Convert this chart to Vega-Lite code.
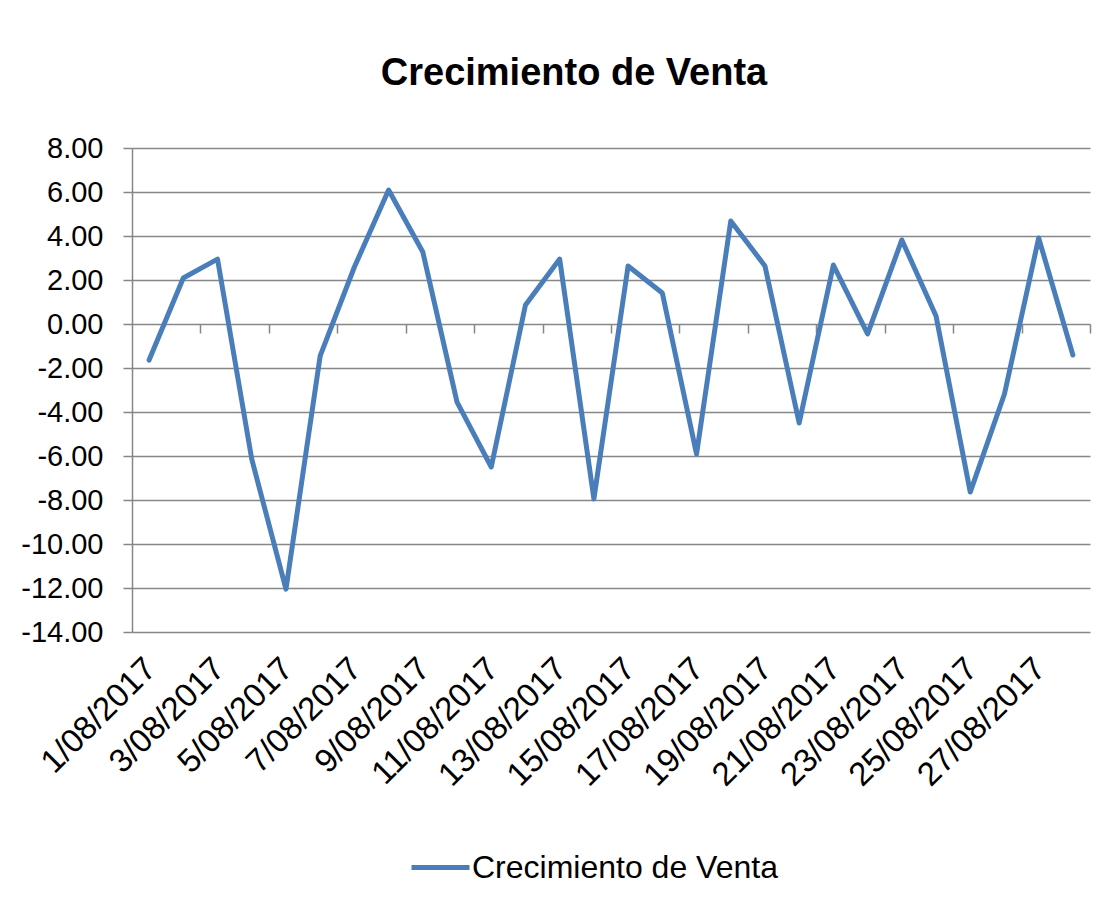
{
  "$schema": "https://vega.github.io/schema/vega-lite/v6.json",
  "width": 958,
  "height": 484,
  "autosize": {"type": "none"},
  "padding": {"left": 132, "top": 148, "right": 10, "bottom": 277},
  "background": "white",
  "title": {
    "text": "Crecimiento de Venta",
    "font": "Liberation Sans",
    "fontSize": 38,
    "fontWeight": "bold",
    "color": "black",
    "anchor": "middle",
    "frame": "group",
    "dx": -37,
    "baseline": "alphabetic",
    "offset": 11
  },
  "data": {
    "values": [
      {"fecha": "1/08/2017", "valor": -1.64, "serie": "Crecimiento de Venta"},
      {"fecha": "2/08/2017", "valor": 2.09, "serie": "Crecimiento de Venta"},
      {"fecha": "3/08/2017", "valor": 2.95, "serie": "Crecimiento de Venta"},
      {"fecha": "4/08/2017", "valor": -6.14, "serie": "Crecimiento de Venta"},
      {"fecha": "5/08/2017", "valor": -12.05, "serie": "Crecimiento de Venta"},
      {"fecha": "6/08/2017", "valor": -1.45, "serie": "Crecimiento de Venta"},
      {"fecha": "7/08/2017", "valor": 2.59, "serie": "Crecimiento de Venta"},
      {"fecha": "8/08/2017", "valor": 6.09, "serie": "Crecimiento de Venta"},
      {"fecha": "9/08/2017", "valor": 3.27, "serie": "Crecimiento de Venta"},
      {"fecha": "10/08/2017", "valor": -3.55, "serie": "Crecimiento de Venta"},
      {"fecha": "11/08/2017", "valor": -6.5, "serie": "Crecimiento de Venta"},
      {"fecha": "12/08/2017", "valor": 0.86, "serie": "Crecimiento de Venta"},
      {"fecha": "13/08/2017", "valor": 2.95, "serie": "Crecimiento de Venta"},
      {"fecha": "14/08/2017", "valor": -7.95, "serie": "Crecimiento de Venta"},
      {"fecha": "15/08/2017", "valor": 2.64, "serie": "Crecimiento de Venta"},
      {"fecha": "16/08/2017", "valor": 1.41, "serie": "Crecimiento de Venta"},
      {"fecha": "17/08/2017", "valor": -5.91, "serie": "Crecimiento de Venta"},
      {"fecha": "18/08/2017", "valor": 4.68, "serie": "Crecimiento de Venta"},
      {"fecha": "19/08/2017", "valor": 2.64, "serie": "Crecimiento de Venta"},
      {"fecha": "20/08/2017", "valor": -4.5, "serie": "Crecimiento de Venta"},
      {"fecha": "21/08/2017", "valor": 2.68, "serie": "Crecimiento de Venta"},
      {"fecha": "22/08/2017", "valor": -0.45, "serie": "Crecimiento de Venta"},
      {"fecha": "23/08/2017", "valor": 3.82, "serie": "Crecimiento de Venta"},
      {"fecha": "24/08/2017", "valor": 0.36, "serie": "Crecimiento de Venta"},
      {"fecha": "25/08/2017", "valor": -7.64, "serie": "Crecimiento de Venta"},
      {"fecha": "26/08/2017", "valor": -3.18, "serie": "Crecimiento de Venta"},
      {"fecha": "27/08/2017", "valor": 3.91, "serie": "Crecimiento de Venta"},
      {"fecha": "28/08/2017", "valor": -1.41, "serie": "Crecimiento de Venta"}
    ]
  },
  "layer": [
    {
      "mark": {"type": "line", "opacity": 0},
      "encoding": {
        "x": {
          "field": "fecha",
          "type": "nominal",
          "sort": null,
          "axis": {
            "orient": "bottom",
            "offset": -308,
            "title": null,
            "labels": false,
            "domain": false,
            "grid": false,
            "ticks": true,
            "tickOffset": 17.1,
            "tickSize": 9,
            "tickColor": "#878787",
            "tickWidth": 1.5,
            "values": ["2/08/2017", "4/08/2017", "6/08/2017", "8/08/2017", "10/08/2017", "12/08/2017", "14/08/2017", "16/08/2017", "18/08/2017", "20/08/2017", "22/08/2017", "24/08/2017", "26/08/2017", "28/08/2017"]
          }
        },
        "y": {"field": "valor", "type": "quantitative"}
      }
    },
    {
      "mark": {"type": "line", "strokeWidth": 5, "strokeCap": "round", "strokeJoin": "round"},
      "encoding": {
        "x": {
          "field": "fecha",
          "type": "nominal",
          "sort": null,
          "scale": {"paddingInner": 0, "paddingOuter": 0},
          "axis": {
            "orient": "bottom",
            "title": null,
            "domain": false,
            "ticks": false,
            "grid": false,
            "labelAngle": -45,
            "labelAlign": "right",
            "labelBaseline": "top",
            "labelPadding": 20,
            "labelOffset": -10,
            "labelFont": "Liberation Sans",
            "labelFontSize": 33,
            "labelColor": "black",
            "labelOverlap": false,
            "values": ["1/08/2017", "3/08/2017", "5/08/2017", "7/08/2017", "9/08/2017", "11/08/2017", "13/08/2017", "15/08/2017", "17/08/2017", "19/08/2017", "21/08/2017", "23/08/2017", "25/08/2017", "27/08/2017"]
          }
        },
        "y": {
          "field": "valor",
          "type": "quantitative",
          "scale": {"domain": [-14, 8], "nice": false, "zero": false},
          "axis": {
            "title": null,
            "values": [-14, -12, -10, -8, -6, -4, -2, 0, 2, 4, 6, 8],
            "labelExpr": "replace(format(datum.value, '.2f'), '\u2212', '-')",
            "labelFont": "Liberation Sans",
            "labelFontSize": 29,
            "labelColor": "black",
            "labelPadding": 20,
            "tickSize": 9,
            "tickColor": "#878787",
            "tickWidth": 1.5,
            "domainColor": "#878787",
            "domainWidth": 1.5,
            "grid": true,
            "gridColor": "#878787",
            "gridWidth": 1.5
          }
        },
        "color": {
          "field": "serie",
          "type": "nominal",
          "scale": {"range": ["#4a7ebb"]},
          "legend": {
            "title": null,
            "orient": "none",
            "legendX": 277,
            "legendY": 688,
            "padding": 0,
            "symbolType": "stroke",
            "symbolSize": 3364,
            "symbolStrokeWidth": 5,
            "labelFont": "Liberation Sans",
            "labelFontSize": 32,
            "labelColor": "black",
            "labelOffset": 0,
            "labelLimit": 600
          }
        }
      }
    }
  ],
  "resolve": {"axis": {"x": "independent"}},
  "config": {
    "view": {"stroke": null},
    "font": "Liberation Sans"
  }
}
